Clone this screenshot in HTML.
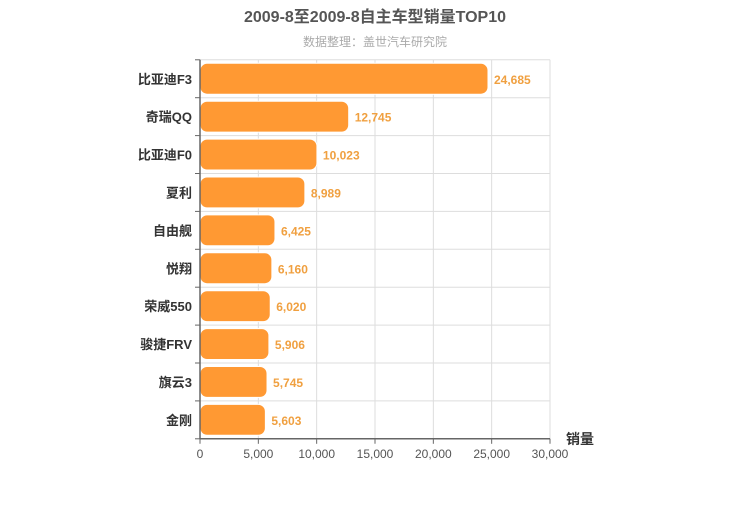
<!DOCTYPE html>
<html><head><meta charset="utf-8"><style>
body{margin:0;background:#fff;font-family:"Liberation Sans","Noto Sans CJK SC",sans-serif}
</style></head><body>
<svg width="750" height="500" xmlns="http://www.w3.org/2000/svg" font-family="Liberation Sans, Noto Sans CJK SC, sans-serif">
<text x="375" y="22" text-anchor="middle" font-size="16" font-weight="bold" fill="#555">2009-8至2009-8自主车型销量TOP10</text>
<text x="375" y="46" text-anchor="middle" font-size="12" fill="#aaa">数据整理：盖世汽车研究院</text>
<g id="grid"></g><g id="bars"></g><g id="axes"></g>
<text x="580" y="444" text-anchor="middle" font-size="14" font-weight="bold" fill="#333">销量</text>
</svg>
<script>
const categories=["比亚迪F3","奇瑞QQ","比亚迪F0","夏利","自由舰","悦翔","荣威550","骏捷FRV","旗云3","金刚"];
const values=[24685,12745,10023,8989,6425,6160,6020,5906,5745,5603];
const xTicks=[0,5000,10000,15000,20000,25000,30000];
const ns="http://www.w3.org/2000/svg";
const X0=200,X1=550,Y0=59.8,Y1=438.8,XMAX=30000;
const xs=v=>X0+(X1-X0)*v/XMAX;
const rh=(Y1-Y0)/categories.length;
function mk(t,a,p){const e=document.createElementNS(ns,t);for(const k in a)e.setAttribute(k,a[k]);p.appendChild(e);return e;}
const grid=document.getElementById('grid'),bars=document.getElementById('bars'),axes=document.getElementById('axes');
xTicks.forEach(t=>{
 const l=mk('line',{x1:xs(t),x2:xs(t),y1:Y0,y2:Y1,stroke:'#ddd'},grid);
 
 
 const tk=mk('line',{x1:xs(t),x2:xs(t),y1:Y1,y2:Y1+5,stroke:'#666'},axes);
 
 
 const tx=mk('text',{x:xs(t),y:Y1+19,'text-anchor':'middle','font-size':12,fill:'#555'},axes);
 tx.textContent=t.toLocaleString('en-US');
 
 
});
for(let i=0;i<=categories.length;i++){
 const y=Y0+i*rh;
 const l=mk('line',{x1:X0,x2:X1,y1:y,y2:y,stroke:'#ddd'},grid);
 
 
 const tk=mk('line',{x1:X0-5,x2:X0,y1:y,y2:y,stroke:'#666'},axes);
 
 
}
categories.forEach((c,i)=>{
 const yc=Y0+(i+0.5)*rh;
 const r=mk('rect',{x:X0,y:yc-rh/2+3.5,width:xs(values[i])-X0,height:rh-7,rx:7,fill:'#ff9933',stroke:'#fff','stroke-width':1},bars);
 
 
 const v=mk('text',{x:xs(values[i])+6,y:yc+5,'font-size':12,'font-weight':'bold',fill:'#f0a040'},bars);
 v.textContent=values[i].toLocaleString('en-US');
 
 
 const t=mk('text',{x:X0-8,y:yc+5,'text-anchor':'end','font-size':13,'font-weight':'bold',fill:'#333'},axes);
 t.textContent=c;
 
 
});
const ya=mk('line',{x1:X0,x2:X0,y1:Y0,y2:Y1,stroke:'#666','stroke-width':1.5},axes);


const xa=mk('line',{x1:X0,x2:X1,y1:Y1,y2:Y1,stroke:'#666','stroke-width':1.5},axes);


</script>
</body></html>
